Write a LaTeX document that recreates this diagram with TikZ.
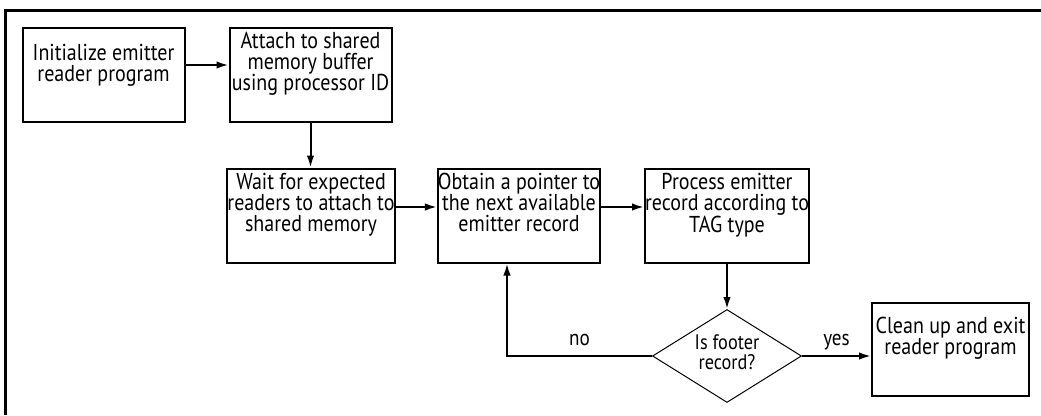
\documentclass[tikz,border=0pt]{standalone}
\usepackage{fontspec}
\setmainfont[FakeStretch=0.87]{PT Sans}
\usetikzlibrary{arrows.meta,shapes.geometric}
\begin{document}
\begin{tikzpicture}[x=1pt,y=-1pt]
            \tikzstyle{every node}+=[font=\fontsize{23}{21}\selectfont]
            \tikzstyle{stepbox}=[draw=black, line width=2pt, align=center, inner sep=0pt, minimum width=162pt, minimum height=94pt, text depth=26pt]
            \tikzstyle{testbox}=[draw=black, line width=1pt, diamond, aspect=1.6, align=center, inner sep=0pt, minimum width=149pt, minimum height=93pt, text depth=8pt, font=\fontsize{21}{20}\selectfont]
            \tikzstyle{flow}=[black, line width=2pt, -{Latex[length=12pt,width=7.5pt]}]
            \tikzstyle{answer}=[inner sep=0pt, text depth=0pt, above=10pt, font=\fontsize{22}{22}\selectfont]
            \useasboundingbox (0,0) rectangle (1041,415);
            \draw [black, line width=3pt] (1041,10.5) -- (5.5,10.5) -- (5.5,415);
            \node [stepbox, text depth=23pt] (init) at (103.5,74.5) {Initialize emitter\\reader program};
            \node [stepbox] (attach) at (310.5,74.5) {Attach to shared\\memory buffer\\using processor ID};
            \node [stepbox] (wait) at (311,215.5) {Wait for expected\\readers to attach to\\shared memory};
            \node [stepbox] (obtain) at (519,215.5) {Obtain a pointer to\\the next available\\emitter record};
            \node [stepbox] (process) at (727,215.5) {Process emitter\\record according to\\TAG type};
            \node [testbox] (footer) at (727,356) {Is footer\\record?};
            \node [stepbox, minimum width=157pt, minimum height=93pt, text depth=27pt] (cleanup) at (950.5,349.5) {Clean up and exit\\reader program};
            \draw [flow] ([yshift=9.5pt]init.east) -- ([yshift=9.5pt]attach.west);
            \draw [flow] (attach.south) -- (attach.south |- wait.north);
            \draw [flow] ([yshift=8.5pt]wait.east) -- ([yshift=8.5pt]obtain.west);
            \draw [flow] ([yshift=8.5pt]obtain.east) -- ([yshift=8.5pt]process.west);
            \draw [flow] (process.south) -- (footer.north);
            \draw [flow] (footer.west) -| node [answer, pos=0.25] {no} ([xshift=-12pt]obtain.south);
            \draw [flow] (footer.east) -- node [answer] {yes} (footer.east -| cleanup.west);
\end{tikzpicture}
\end{document}
